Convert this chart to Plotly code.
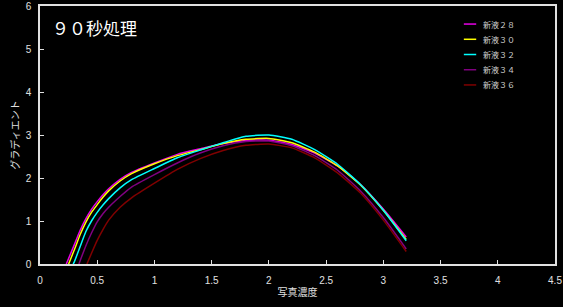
import plotly.graph_objects as go

x_values = [0.30, 0.35, 0.40, 0.45, 0.50, 0.55, 0.60, 0.70, 0.80, 1.00, 1.20, 1.40, 1.60, 1.80,
            2.00, 2.20, 2.40, 2.60, 2.80, 3.00, 3.20]

names = ["新液２８", "新液３０", "新液３２", "新液３４", "新液３６"]
colors = ["#e800e8", "#ffff00", "#00ffff", "#800080", "#800000"]

start_28 = 0.23
start_30 = 0.25
start_32 = 0.29
start_34 = 0.34
start_36 = 0.41

y_28 = [0.45, 0.78, 1.05, 1.27, 1.45, 1.61, 1.75, 1.97, 2.13, 2.35, 2.55, 2.68, 2.80, 2.87,
        2.88, 2.78, 2.58, 2.28, 1.85, 1.28, 0.63]
y_30 = [0.33, 0.68, 0.97, 1.20, 1.38, 1.55, 1.70, 1.93, 2.10, 2.33, 2.52, 2.66, 2.80, 2.90,
        2.92, 2.82, 2.60, 2.28, 1.84, 1.25, 0.57]
y_32 = [0.05, 0.40, 0.75, 1.00, 1.20, 1.37, 1.52, 1.77, 1.96, 2.22, 2.47, 2.65, 2.82, 2.97,
        3.00, 2.90, 2.66, 2.32, 1.85, 1.25, 0.54]
y_34 = [None, None, 0.42, 0.72, 0.98, 1.17, 1.32, 1.57, 1.79, 2.08, 2.35, 2.58, 2.75, 2.85,
        2.86, 2.75, 2.52, 2.18, 1.70, 1.08, 0.35]
y_36 = [None, None, None, 0.25, 0.55, 0.80, 1.02, 1.32, 1.54, 1.88, 2.20, 2.45, 2.64, 2.76,
        2.79, 2.70, 2.47, 2.12, 1.65, 1.02, 0.29]

starts = [start_28, start_30, start_32, start_34, start_36]
series = [y_28, y_30, y_32, y_34, y_36]

fig = go.Figure()
for name, color, s, ys in zip(names, colors, starts, series):
    xs = [s]
    yv = [0.0]
    for xv, y in zip(x_values, ys):
        if y is None or xv <= s:
            continue
        xs.append(xv)
        yv.append(y)
    fig.add_trace(go.Scatter(x=xs, y=yv, mode="lines", name=name, showlegend=False,
                             line=dict(color=color, width=1.5, shape="spline", smoothing=0.5)))

# manual legend (compact spacing like the reference)
leg_x0, leg_x1, leg_tx = 0.823, 0.847, 0.856
leg_y0, leg_dy = 0.930, 0.059
for i, (name, color) in enumerate(zip(names, colors)):
    yy = leg_y0 - i * leg_dy
    fig.add_shape(type="line", xref="paper", yref="paper", x0=leg_x0, x1=leg_x1, y0=yy, y1=yy,
                  line=dict(color=color, width=1.5))
    fig.add_annotation(text=name, xref="paper", yref="paper", x=leg_tx, y=yy,
                       xanchor="left", yanchor="middle", showarrow=False,
                       font=dict(family="Noto Sans CJK JP", size=8, color="#d0d0d0"))

axis_common = dict(
    showgrid=False, zeroline=False, showline=True, mirror=True,
    linecolor="#e0e0e0", linewidth=1.5, automargin=False,
    ticks="inside", ticklen=4, tickcolor="#e0e0e0", tickwidth=1,
    tickfont=dict(family="Liberation Sans, Arial", size=10, color="#e0e0e0"),
)

fig.update_layout(
    width=563, height=307,
    paper_bgcolor="black", plot_bgcolor="black",
    margin=dict(l=40, r=8, t=6, b=43, autoexpand=False),
    font=dict(family="Noto Sans CJK JP", color="#e0e0e0"),
    xaxis=dict(range=[0, 4.5], dtick=0.5, ticklabelstandoff=6, **axis_common,
               title=dict(text="写真濃度", font=dict(size=10, color="#e0e0e0"), standoff=4)),
    yaxis=dict(range=[0, 6], dtick=1, ticklabelstandoff=5, **axis_common,
               title=dict(text="グラディエント", font=dict(size=10, color="#e0e0e0"), standoff=4)),
    showlegend=False,
)
fig.add_annotation(text="９０秒処理", x=0.019, y=0.915, xref="paper", yref="paper",
                   xanchor="left", yanchor="middle", showarrow=False,
                   font=dict(family="Noto Sans CJK JP", size=17, color="white"))

fig.write_html("out.html",
               config={"displayModeBar": False},
               post_script="document.body.style.margin='0';document.body.style.overflow='hidden';")
